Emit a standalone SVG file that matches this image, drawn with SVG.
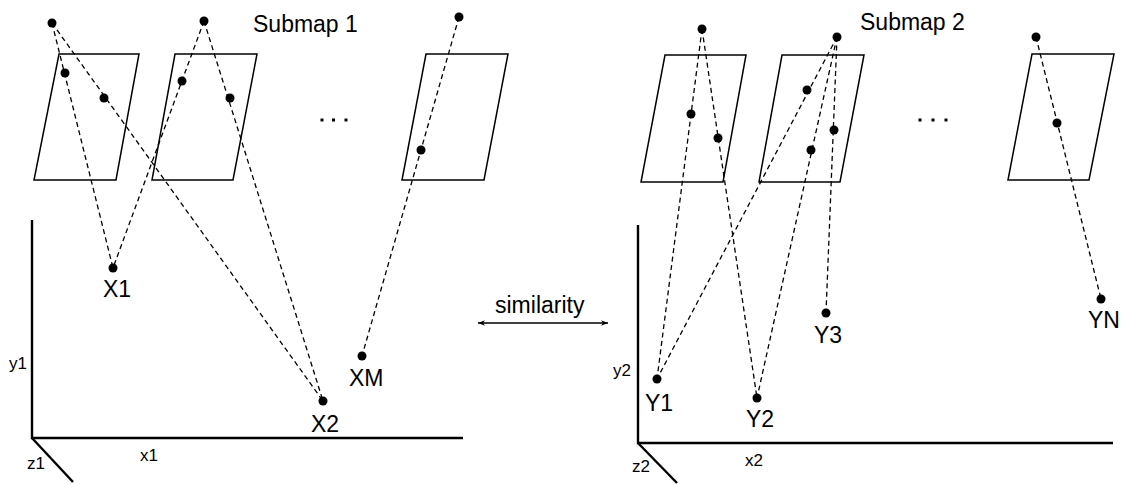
<svg xmlns="http://www.w3.org/2000/svg" width="1123" height="484" viewBox="0 0 1123 484">
<style>
.frame{fill:none;stroke:#000;stroke-width:1.5;stroke-linejoin:miter}
.axis{fill:none;stroke:#000;stroke-width:2.4}
.ray{fill:none;stroke:#000;stroke-width:1.3;stroke-dasharray:5,3.5}
.dot{fill:#000}
.big{font-family:"Liberation Sans",Arial,sans-serif;font-size:23px;fill:#000}
.small{font-family:"Liberation Sans",Arial,sans-serif;font-size:17px;fill:#000}
.ell{fill:#000}
</style>
<defs>
<marker id="ah" viewBox="0 0 10 10" refX="10" refY="5" markerWidth="9" markerHeight="7" markerUnits="userSpaceOnUse" orient="auto-start-reverse">
<path d="M0,1 L10,5 L0,9 L3,5 z" fill="#000"/>
</marker>
</defs>
<rect width="1123" height="484" fill="#fff"/>

<g id="connectors">
<line class="ray" x1="52" y1="23" x2="113" y2="268"/>
<line class="ray" x1="52" y1="23" x2="323" y2="401"/>
<line class="ray" x1="204" y1="21" x2="113" y2="268"/>
<line class="ray" x1="204" y1="21" x2="323" y2="401"/>
<line class="ray" x1="459" y1="17" x2="362" y2="356"/>
<line class="ray" x1="702" y1="29" x2="657" y2="379"/>
<line class="ray" x1="702" y1="29" x2="757" y2="398"/>
<line class="ray" x1="837" y1="37" x2="657" y2="379"/>
<line class="ray" x1="837" y1="37" x2="757" y2="398"/>
<line class="ray" x1="837" y1="37" x2="826" y2="313"/>
<line class="ray" x1="1036" y1="37" x2="1101" y2="299"/>
<line x1="478" y1="323" x2="608" y2="323" stroke="#000" stroke-width="1.3" marker-start="url(#ah)" marker-end="url(#ah)"/>
</g>

<g id="submap1">
<text class="big" x="253" y="32">Submap 1</text>
<polygon class="frame" points="59,54 139,54 116,180 34,180"/>
<polygon class="frame" points="175,54 257,54 233,180 152,180"/>
<polygon class="frame" points="426,54 508,54 484,180 402,180"/>
<rect class="ell" x="320.5" y="118.5" width="3" height="3"/>
<rect class="ell" x="332" y="118.5" width="3" height="3"/>
<rect class="ell" x="344.5" y="118.5" width="3" height="3"/>
</g>

<g id="cameras1">
<circle class="dot" cx="52" cy="23" r="4.5"/>
<circle class="dot" cx="65" cy="73" r="4.5"/>
<circle class="dot" cx="104" cy="98" r="4.5"/>
<circle class="dot" cx="204" cy="21" r="4.5"/>
<circle class="dot" cx="182" cy="81" r="4.5"/>
<circle class="dot" cx="230" cy="98" r="4.5"/>
<circle class="dot" cx="459" cy="17" r="4.5"/>
<circle class="dot" cx="421" cy="150" r="4.5"/>
</g>

<g id="axes1">
<polyline class="axis" points="32,220 32,438 463,438"/>
<line class="axis" x1="32" y1="438" x2="73" y2="482"/>
<text class="small" x="9" y="369">y1</text>
<text class="small" x="140" y="461">x1</text>
<text class="small" x="27" y="469">z1</text>
</g>

<g id="X1"><circle class="dot" cx="113" cy="268" r="4.5"/><text class="big" x="103" y="297">X1</text></g>
<g id="X2"><circle class="dot" cx="323" cy="401" r="4.5"/><text class="big" x="311" y="432">X2</text></g>
<g id="XM"><circle class="dot" cx="362" cy="356" r="4.5"/><text class="big" x="349" y="386">XM</text></g>

<g id="similarity"><text class="big" x="495" y="313">similarity</text></g>

<g id="submap2">
<text class="big" x="860" y="30">Submap 2</text>
<polygon class="frame" points="665,55 746,55 723,182 641,182"/>
<polygon class="frame" points="782,55 864,55 840,182 759,182"/>
<polygon class="frame" points="1032,54 1114,54 1089,180 1008,180"/>
<rect class="ell" x="918.5" y="118.5" width="3" height="3"/>
<rect class="ell" x="931.5" y="118.5" width="3" height="3"/>
<rect class="ell" x="944.5" y="118.5" width="3" height="3"/>
</g>

<g id="cameras2">
<circle class="dot" cx="702" cy="29" r="4.5"/>
<circle class="dot" cx="691" cy="114" r="4.5"/>
<circle class="dot" cx="718" cy="138" r="4.5"/>
<circle class="dot" cx="837" cy="37" r="4.5"/>
<circle class="dot" cx="807" cy="90" r="4.5"/>
<circle class="dot" cx="811" cy="150" r="4.5"/>
<circle class="dot" cx="834" cy="130" r="4.5"/>
<circle class="dot" cx="1036" cy="37" r="4.5"/>
<circle class="dot" cx="1057" cy="123" r="4.5"/>
</g>

<g id="axes2">
<polyline class="axis" points="638,225 638,443 1113,443"/>
<line class="axis" x1="638" y1="443" x2="677" y2="483"/>
<text class="small" x="613" y="376">y2</text>
<text class="small" x="745" y="466">x2</text>
<text class="small" x="632" y="472">z2</text>
</g>

<g id="Y1"><circle class="dot" cx="657" cy="379" r="4.5"/><text class="big" x="645" y="411">Y1</text></g>
<g id="Y2"><circle class="dot" cx="757" cy="398" r="4.5"/><text class="big" x="746" y="427">Y2</text></g>
<g id="Y3"><circle class="dot" cx="826" cy="313" r="4.5"/><text class="big" x="814" y="343">Y3</text></g>
<g id="YN"><circle class="dot" cx="1101" cy="299" r="4.5"/><text class="big" x="1088" y="328">YN</text></g>
</svg>
